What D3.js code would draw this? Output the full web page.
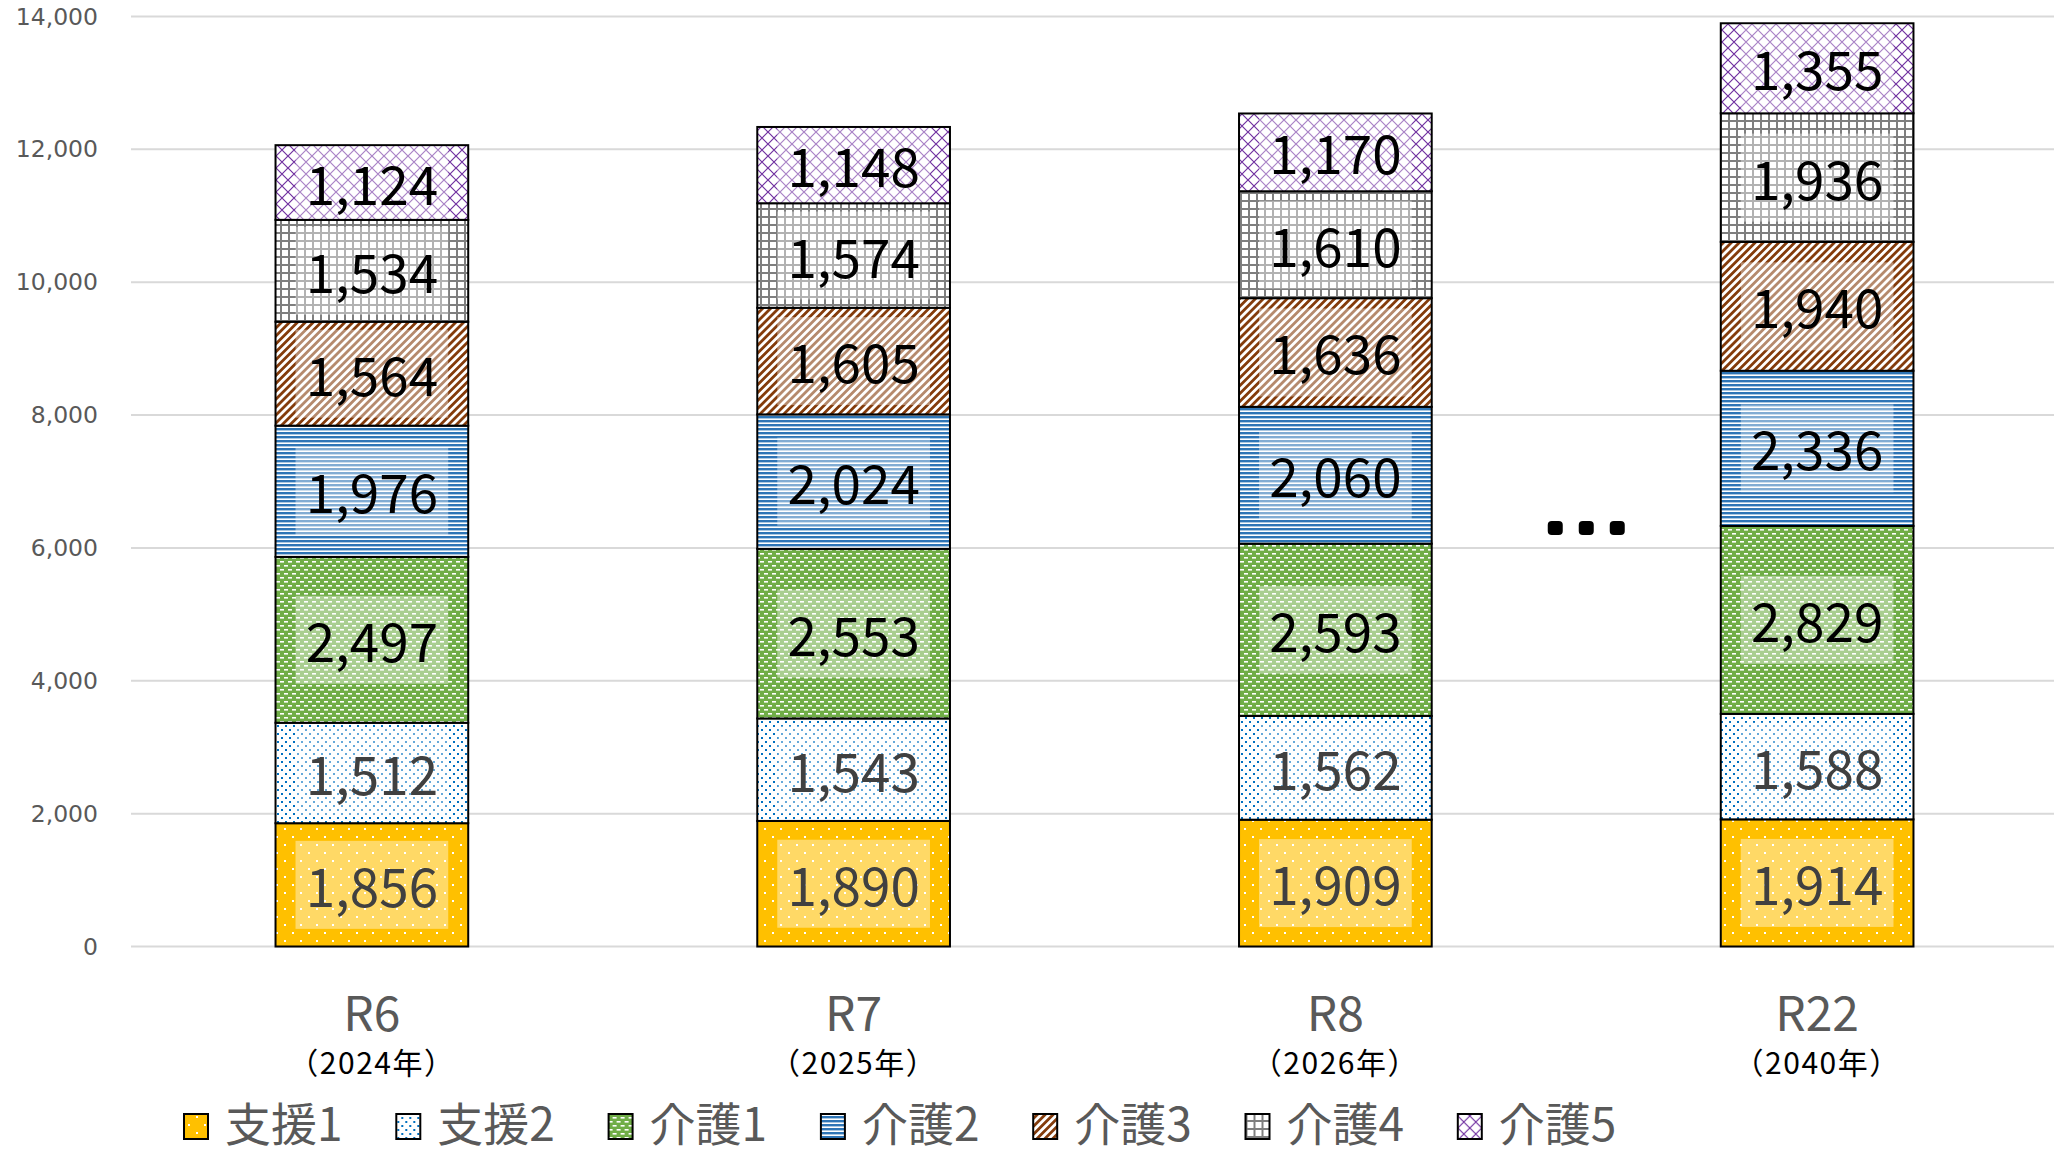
<!DOCTYPE html>
<html>
<head>
<meta charset="utf-8">
<script src="https://cdn.jsdelivr.net/npm/d3@7"></script>
<style>
    body { margin: 0; background: #fff; }
    text { font-family: "Noto Sans CJK JP", "Noto Sans", sans-serif; }
</style>
</head>
<body>
<div id="my_dataviz"></div>
<script>
// categories and series values
var categories = ["R6", "R7", "R8", "R22"];
var years = ["（2024年）", "（2025年）", "（2026年）", "（2040年）"];
var seriesNames = ["支援1", "支援2", "介護1", "介護2", "介護3", "介護4", "介護5"];
var shien1 = [1856, 1890, 1909, 1914];
var shien2 = [1512, 1543, 1562, 1588];
var kaigo1 = [2497, 2553, 2593, 2829];
var kaigo2 = [1976, 2024, 2060, 2336];
var kaigo3 = [1564, 1605, 1636, 1940];
var kaigo4 = [1534, 1574, 1610, 1936];
var kaigo5 = [1124, 1148, 1170, 1355];
var yTicks = [0, 2000, 4000, 6000, 8000, 10000, 12000, 14000];

var seriesValues = [shien1, shien2, kaigo1, kaigo2, kaigo3, kaigo4, kaigo5];

// build one row per category for d3.stack
var data = categories.map(function(c, i) {
    var row = { cat: c, year: years[i] };
    seriesNames.forEach(function(s, k) { row[s] = seriesValues[k][i]; });
    return row;
});

var W = 2054, H = 1150;
var svg = d3.select("#my_dataviz")
    .append("svg")
        .attr("width", W)
        .attr("height", H);

// patterns, one per series
var defs = svg.append("defs");

function makePattern(id, w, h, bg) {
    var p = defs.append("pattern")
        .attr("id", id)
        .attr("patternUnits", "userSpaceOnUse")
        .attr("width", w)
        .attr("height", h);
    p.append("rect").attr("width", w).attr("height", h).attr("fill", bg);
    return p;
}

// 支援1: gold with sparse white dots
var p0 = makePattern("pat0", 16, 16, "#FFC000");
p0.append("rect").attr("x", 4).attr("y", 4).attr("width", 2).attr("height", 2).attr("fill", "#fff");
p0.append("rect").attr("x", 12).attr("y", 12).attr("width", 2).attr("height", 2).attr("fill", "#fff");

// 支援2: white with blue dots
var p1 = makePattern("pat1", 8, 8, "#fff");
p1.append("rect").attr("x", 1).attr("y", 1).attr("width", 2).attr("height", 2).attr("fill", "#0070C0");
p1.append("rect").attr("x", 5).attr("y", 5).attr("width", 2).attr("height", 2).attr("fill", "#0070C0");

// 介護1: green with white dashes
var p2 = makePattern("pat2", 8, 8, "#70AD47");
p2.append("rect").attr("x", 0).attr("y", 1).attr("width", 4).attr("height", 1.6).attr("fill", "#fff");
p2.append("rect").attr("x", 4).attr("y", 5).attr("width", 4).attr("height", 1.6).attr("fill", "#fff");

// 介護2: horizontal blue lines
var p3 = makePattern("pat3", 8, 4, "#fff");
p3.append("rect").attr("x", 0).attr("y", 0).attr("width", 8).attr("height", 2.4).attr("fill", "#2E75B6");

// 介護3: brown diagonal stripes
var p4 = makePattern("pat4", 5.6, 5.6, "#fff").attr("patternTransform", "rotate(45)");
p4.append("rect").attr("x", 0).attr("y", 0).attr("width", 2.8).attr("height", 5.6).attr("fill", "#843C0C");

// 介護4: grey grid
var p5 = makePattern("pat5", 8, 8, "#fff");
p5.append("rect").attr("x", 0).attr("y", 0).attr("width", 8).attr("height", 2).attr("fill", "#7F7F7F");
p5.append("rect").attr("x", 0).attr("y", 0).attr("width", 2).attr("height", 8).attr("fill", "#7F7F7F");

// 介護5: purple diamond lattice
var p6 = makePattern("pat6", 12, 12, "#fff");
p6.append("path")
    .attr("d", "M-1,-1L13,13M13,-1L-1,13")
    .attr("stroke", "#7030A0")
    .attr("stroke-width", 1.2)
    .attr("fill", "none");

var patternIds = ["pat0", "pat1", "pat2", "pat3", "pat4", "pat5", "pat6"];
var labelColors = ["#404040", "#404040", "#000", "#000", "#000", "#000", "#000"];

// set the ranges
var x = d3.scaleBand()
    .domain(categories)
    .range([131, 2058])
    .paddingInner(0.6)
    .paddingOuter(0.3);
var y = d3.scaleLinear().domain([0, 14000]).range([946.5, 16.5]);

// gridlines
svg.append("g")
    .selectAll("line")
    .data(yTicks)
    .enter()
    .append("line")
        .attr("x1", 131)
        .attr("x2", W)
        .attr("y1", function(d) { return y(d); })
        .attr("y2", function(d) { return y(d); })
        .attr("stroke", "#D9D9D9")
        .attr("stroke-width", 2);

// y axis labels
var yAxis = svg.append("g")
    .attr("transform", "translate(98,0)")
    .call(d3.axisLeft(y).tickValues(yTicks).tickFormat(d3.format(",")).tickSize(0).tickPadding(0));
yAxis.select(".domain").remove();
yAxis.selectAll("text")
    .attr("fill", "#595959")
    .style("font-family", "'DejaVu Sans', Verdana, sans-serif")
    .style("font-size", "23.5px");

// stacked bars
var stacked = d3.stack().keys(seriesNames)(data);

var layers = svg.append("g")
    .selectAll("g")
    .data(stacked)
    .enter()
    .append("g")
        .attr("fill", function(d, i) { return "url(#" + patternIds[i] + ")"; });

layers.selectAll("rect")
    .data(function(d) { return d; })
    .enter()
    .append("rect")
        .attr("x", function(d) { return x(d.data.cat); })
        .attr("y", function(d) { return y(d[1]); })
        .attr("width", x.bandwidth())
        .attr("height", function(d) { return y(d[0]) - y(d[1]); })
        .attr("stroke", "#000")
        .attr("stroke-width", 2);

// data labels with a half-clear box behind them
var labels = svg.append("g")
    .selectAll("g")
    .data(stacked)
    .enter()
    .append("g");

labels.each(function(s, k) {
    var g = d3.select(this);
    s.forEach(function(d) {
        var segH = y(d[0]) - y(d[1]);
        var mid = (y(d[0]) + y(d[1])) / 2;
        var boxH = Math.min(88, segH - 2);
        g.append("rect")
            .attr("x", x(d.data.cat) + 20)
            .attr("y", mid - boxH / 2)
            .attr("width", x.bandwidth() - 40)
            .attr("height", boxH)
            .attr("fill", "#fff")
            .attr("fill-opacity", 0.4);
        g.append("text")
            .attr("x", x(d.data.cat) + x.bandwidth() / 2)
            .attr("y", mid + 22)
            .attr("text-anchor", "middle")
            .attr("fill", labelColors[k])
            .style("font-size", "53px")
            .text(d3.format(",")(d.data[s.key]));
    });
});

// category labels
var xl = svg.append("g")
    .selectAll("g")
    .data(data)
    .enter()
    .append("g")
        .attr("transform", function(d) { return "translate(" + (x(d.cat) + x.bandwidth() / 2) + ",0)"; });
xl.append("text")
    .attr("y", 1031)
    .attr("text-anchor", "middle")
    .attr("fill", "#595959")
    .style("font-size", "48px")
    .text(function(d) { return d.cat; });
xl.append("text")
    .attr("y", 1074)
    .attr("text-anchor", "middle")
    .attr("fill", "#000")
    .style("font-size", "30px")
    .style("letter-spacing", "1.5px")
    .text(function(d) { return d.year; });

// "…" between R8 and R22
var gapX = (x("R8") + x("R22") + x.bandwidth()) / 2 + 10;
svg.append("g")
    .selectAll("rect")
    .data([-1, 0, 1])
    .enter()
    .append("rect")
        .attr("x", function(d) { return gapX + d * 31 - 7.5; })
        .attr("y", y(6000) - 27)
        .attr("width", 15)
        .attr("height", 14)
        .attr("rx", 4)
        .attr("fill", "#000");

// legend
var legend = svg.append("g")
    .selectAll("g")
    .data(seriesNames)
    .enter()
    .append("g")
        .attr("transform", function(d, i) { return "translate(" + (184 + i * 212.3) + ",0)"; });
legend.append("rect")
    .attr("x", 0)
    .attr("y", 1114)
    .attr("width", 24)
    .attr("height", 25)
    .attr("fill", function(d, i) { return "url(#" + patternIds[i] + ")"; })
    .attr("stroke", "#000")
    .attr("stroke-width", 2);
legend.append("text")
    .attr("x", 41)
    .attr("y", 1141)
    .attr("fill", "#595959")
    .style("font-size", "46px")
    .text(function(d) { return d; });
</script>
</body>
</html>
